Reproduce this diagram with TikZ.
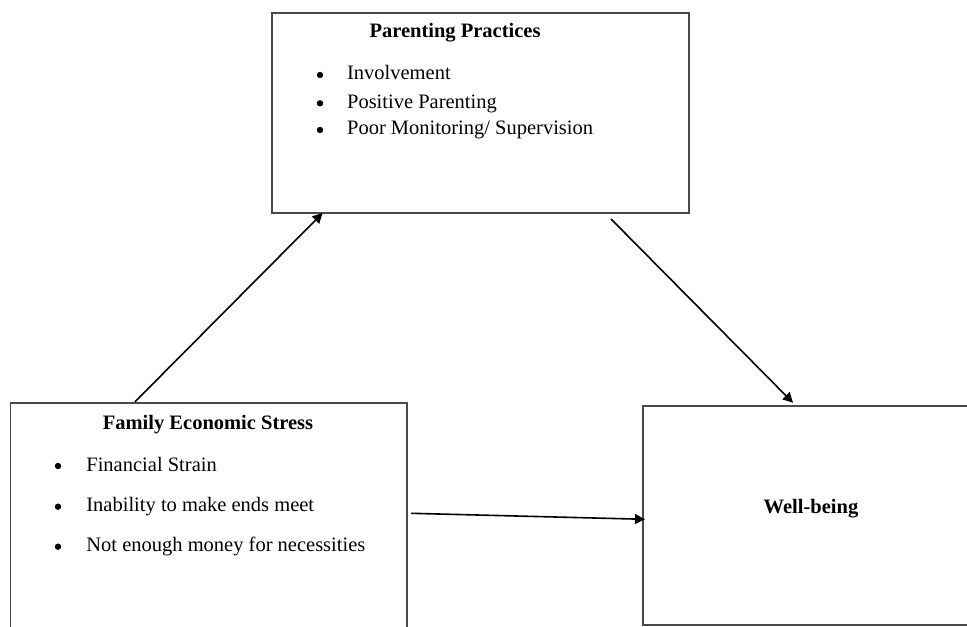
\documentclass[tikz,border=0pt]{standalone}
\usepackage{fontspec}
\setmainfont{Liberation Serif}
\usepackage{tikz}
\usetikzlibrary{arrows.meta}
\definecolor{edge}{HTML}{4A4A4A}
\tikzset{
  box/.style={draw=edge, line width=0.6pt, inner sep=0pt, outer sep=0pt},
  ttl/.style={font=\fontsize{10.25}{12}\selectfont\bfseries, inner sep=0pt, anchor=base},
  itm/.style={font=\fontsize{10.25}{12}\selectfont, inner sep=0pt, anchor=base west},
  bul/.style={circle, fill=black, inner sep=0pt, minimum size=3.2pt},
  arr/.style={draw=black, line width=0.8pt, -{Triangle[length=5pt, width=5pt]}},
}
\begin{document}
\begin{tikzpicture}[x=0.5pt, y=0.5pt]
  \useasboundingbox (0,0) rectangle (967,626);
  \clip (0,0) rectangle (967,626);
  % boxes
  \node[box, minimum width=208.5pt, minimum height=100pt] (pp) at (480.5,513) {};
  \node[box, minimum width=198.25pt, minimum height=123.5pt] (fes) at (208.75,99.5) {};
  \node[box, minimum width=168pt, minimum height=109.5pt] (wb) at (811,110.5) {};
  % parenting practices
  \node[ttl] (ppt) at (455,588) {Parenting Practices};
  \foreach \t/\y [count=\i] in {{Involvement}/546, {Positive Parenting}/517.7, {Poor Monitoring/ Supervision}/491} {
    \node[bul] (ppb\i) at (320,\y+5) {};
    \node[itm] (ppi\i) at (346.7,\y) {\t};
  }
  % family economic stress
  \node[ttl] (fest) at (208,196.7) {Family Economic Stress};
  \foreach \t/\y [count=\i] in {{Financial Strain}/155, {Inability to make ends meet}/114.3, {Not enough money for necessities}/74.3} {
    \node[bul] (feb\i) at (58,\y+5) {};
    \node[itm] (fei\i) at (86,\y) {\t};
  }
  % well-being
  \node[ttl] (wbt) at (811,113) {Well-being};
  % paths
  \draw[arr] ([xshift=62.25pt, yshift=0.6pt]fes.north west) -- ([xshift=25.3pt]pp.south west);
  \draw[arr] ([xshift=169.5pt, yshift=-3pt]pp.south west) -- ([xshift=75pt, yshift=1.6pt]wb.north west);
  \draw[arr] ([xshift=2pt, yshift=6.6pt]fes.east) -- ([xshift=1pt, yshift=-1.9pt]wb.west);
\end{tikzpicture}
\end{document}
